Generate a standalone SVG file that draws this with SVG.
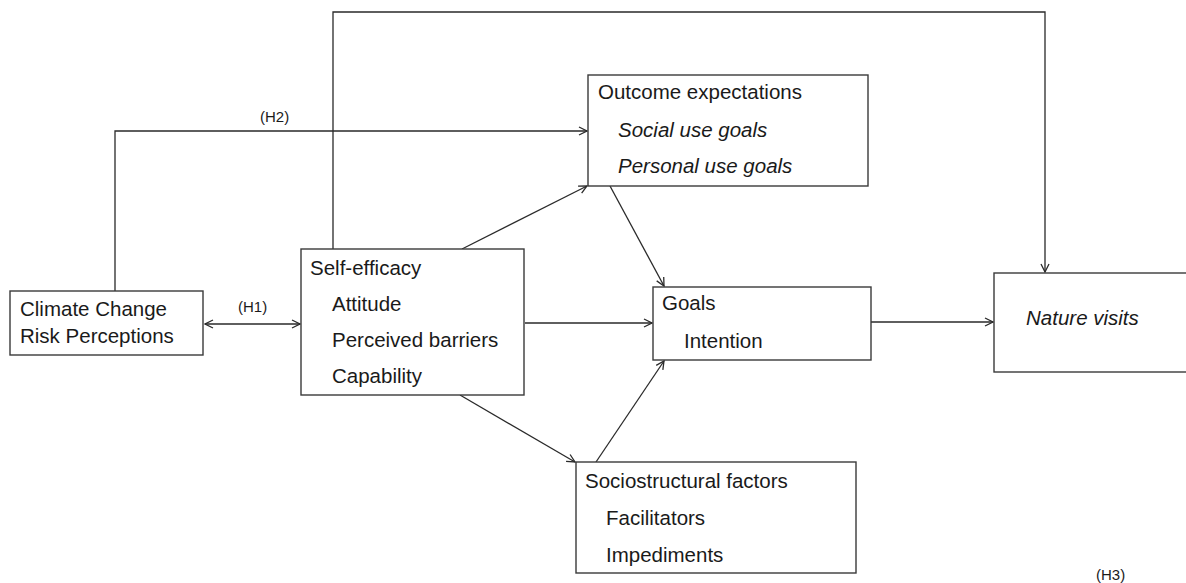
<svg xmlns="http://www.w3.org/2000/svg" width="1186" height="583" viewBox="0 0 1186 583">
<style>
.box{fill:#fff;stroke:#3a3a3a;stroke-width:1.4}
.t{font-family:"Liberation Sans",Arial,sans-serif;font-size:20.5px;fill:#1a1a1a}
.i{font-style:italic}
.h{font-family:"Liberation Sans",Arial,sans-serif;font-size:15px;fill:#1a1a1a}
.c{fill:none;stroke:#2a2a2a;stroke-width:1.3}
</style>
<defs>
<marker id="ah" viewBox="0 0 10 10" refX="9" refY="5" markerWidth="10" markerHeight="10" markerUnits="userSpaceOnUse" orient="auto-start-reverse">
<path d="M1,1 L9,5 L1,9" fill="none" stroke="#2a2a2a" stroke-width="1.3"/>
</marker>
</defs>
<rect width="1186" height="583" fill="#fff"/>
<g id="connectors">
<path class="c" d="M205,324 L300,324" marker-start="url(#ah)" marker-end="url(#ah)"/>
<path class="c" d="M115,291 L115,131 L587,131" marker-end="url(#ah)"/>
<path class="c" d="M333,249 L333,12 L1045,12 L1045,272" marker-end="url(#ah)"/>
<path class="c" d="M462,249 L587,186" marker-end="url(#ah)"/>
<path class="c" d="M610,186 L664,286" marker-end="url(#ah)"/>
<path class="c" d="M525,323 L652,323" marker-end="url(#ah)"/>
<path class="c" d="M460,395 L575,462" marker-end="url(#ah)"/>
<path class="c" d="M596,462 L664,361" marker-end="url(#ah)"/>
<path class="c" d="M871,322 L993,322" marker-end="url(#ah)"/>
<text class="h" x="238" y="312">(H1)</text>
<text class="h" x="260" y="122">(H2)</text>
<text class="h" x="1096" y="580">(H3)</text>
</g>
<g id="climate">
<rect class="box" x="10" y="291" width="193" height="64"/>
<text class="t" x="20" y="316">Climate Change</text>
<text class="t" x="20" y="343">Risk Perceptions</text>
</g>
<g id="selfefficacy">
<rect class="box" x="301" y="249" width="223" height="146"/>
<text class="t" x="310" y="275">Self-efficacy</text>
<text class="t" x="332" y="311">Attitude</text>
<text class="t" x="332" y="347">Perceived barriers</text>
<text class="t" x="332" y="383">Capability</text>
</g>
<g id="outcome">
<rect class="box" x="588" y="75" width="280" height="111"/>
<text class="t" x="598" y="99">Outcome expectations</text>
<text class="t i" x="618" y="137">Social use goals</text>
<text class="t i" x="618" y="173">Personal use goals</text>
</g>
<g id="goals">
<rect class="box" x="653" y="287" width="218" height="73"/>
<text class="t" x="662" y="310">Goals</text>
<text class="t" x="684" y="348">Intention</text>
</g>
<g id="sociostructural">
<rect class="box" x="576" y="462" width="280" height="111"/>
<text class="t" x="585" y="488">Sociostructural factors</text>
<text class="t" x="606" y="525">Facilitators</text>
<text class="t" x="606" y="562">Impediments</text>
</g>
<g id="nature">
<rect class="box" x="994" y="273" width="200" height="99"/>
<text class="t i" x="1026" y="325">Nature visits</text>
</g>
</svg>
